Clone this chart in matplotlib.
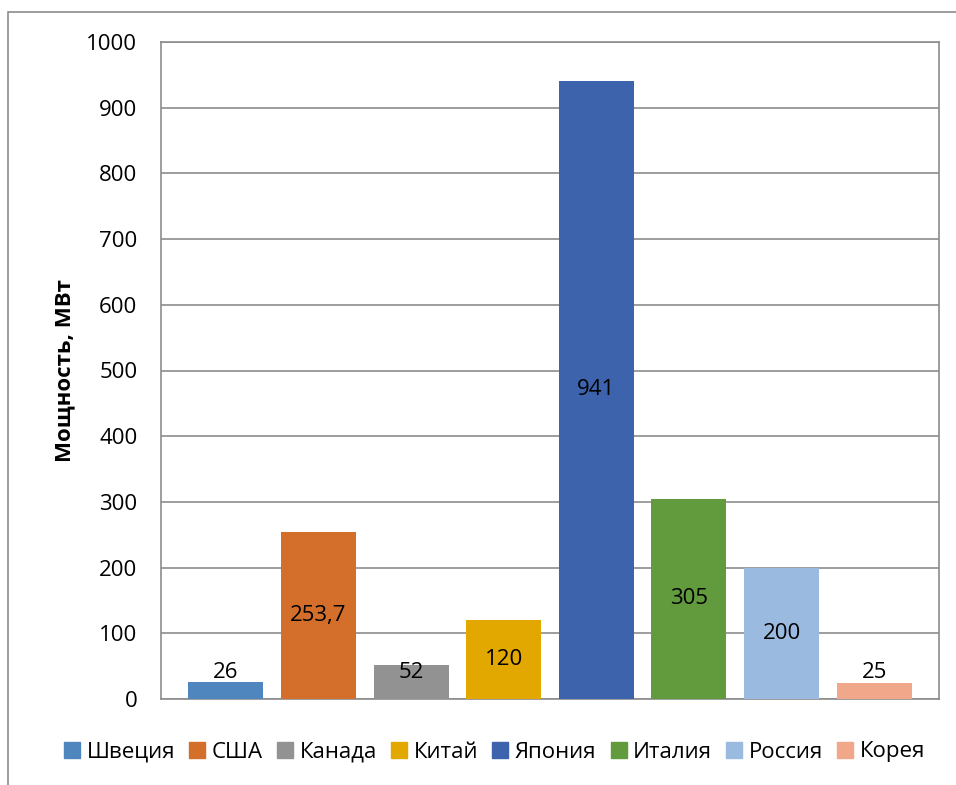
import matplotlib.pyplot as plt
from matplotlib.patches import Rectangle
from matplotlib.lines import Line2D

countries = ['Швеция', 'США', 'Канада', 'Китай', 'Япония', 'Италия', 'Россия', 'Корея']
power = [26, 253.7, 52, 120, 941, 305, 200, 25]
labels = ['26', '253,7', '52', '120', '941', '305', '200', '25']
colors = ['#4F86BD', '#D46E2B', '#929292', '#E3A800', '#3D63AD', '#629A3E', '#9BBAE0', '#F0A78A']

plt.rcParams['font.family'] = ['Open Sans', 'DejaVu Sans']
fs = 16

fig = plt.figure(figsize=(9.56, 7.85), dpi=100)
ax = fig.add_axes([161 / 956, 1 - 699 / 785, 778 / 956, 657 / 785])

x = range(len(countries))
ax.bar(x, power, width=0.81, color=colors, zorder=3)
for i, v in enumerate(power):
    ax.text(i, max(v / 2, 41), labels[i], ha='center', va='center', fontsize=fs, color='black', zorder=4)

ax.set_xlim(-0.7, len(countries) - 0.3)
ax.set_ylim(0, 1000)
ax.set_yticks(range(0, 1001, 100))
ax.set_xticks([])
ax.tick_params(axis='y', length=0, labelsize=fs, pad=17)
ax.grid(axis='y', color='#8C8C8C', linewidth=1.2, zorder=0)
for s in ax.spines.values():
    s.set_color('#8C8C8C')
    s.set_linewidth(1.2)
ax.set_ylabel('Мощность, МВт', fontsize=fs, fontweight='bold', labelpad=8)

handles = [Line2D([], [], marker='s', linestyle='', markersize=12, markerfacecolor=c, markeredgecolor=c) for c in colors]
fig.legend(handles, countries, loc='center', bbox_to_anchor=(493 / 956, 1 - 752 / 785), ncol=8,
           frameon=False, fontsize=fs, handletextpad=0.15, columnspacing=0.5, handlelength=1.0)

# outer chart frame
fig.patches.append(Rectangle((8 / 956, -0.01), 1.0, 1 - 12 / 785 + 0.01, transform=fig.transFigure,
                             fill=False, edgecolor='#8C8C8C', linewidth=1.2))

fig.savefig('out.png', dpi=100)
